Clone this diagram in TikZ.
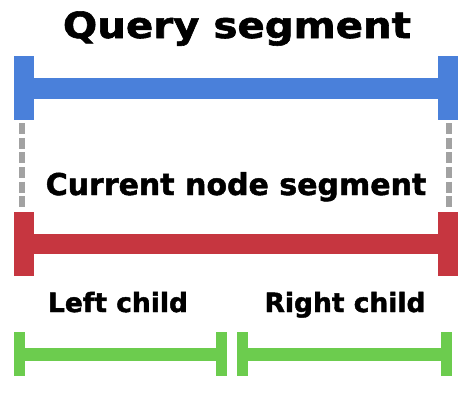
\documentclass[tikz,border=0pt]{standalone}
\usepackage{fontspec}
\setsansfont{DejaVu Sans}[BoldFeatures={FakeBold=1.6}]
\definecolor{qblue}{RGB}{74,128,218}
\definecolor{cred}{RGB}{198,54,64}
\definecolor{kgreen}{RGB}{108,204,78}
\definecolor{dgray}{RGB}{162,162,162}

\begin{document}
\begin{tikzpicture}[x=1pt, y=-1pt,
    bigcap/.style={fill=#1, inner sep=0pt, minimum width=20pt, minimum height=64pt},
    smallcap/.style={fill=#1, inner sep=0pt, minimum width=11pt, minimum height=44pt},
    lbl/.style={font=\sffamily\bfseries\fontsize{#1pt}{#1pt}\selectfont, anchor=base, inner sep=0pt}]
            \useasboundingbox (0,0) rectangle (470,402);

            %Labels
            \node[lbl=36] at (237,38) (query) {\scalebox{1.12}[1]{Query segment}};
            \node[lbl=30] at (236,195) (current) {Current node segment};
            \node[lbl=26.5] at (118,312) (left) {Left child};
            \node[lbl=26.5] at (345,312) (right) {Right child};

            %Caps
            \node[bigcap=qblue] at (24,88) (qL) {};
            \node[bigcap=qblue] at (448,88) (qR) {};
            \node[bigcap=cred] at (24,243.5) (cL) {};
            \node[bigcap=cred] at (448,243.5) (cR) {};
            \node[smallcap=kgreen] at (19.5,354) (lL) {};
            \node[smallcap=kgreen] at (221.5,354) (lR) {};
            \node[smallcap=kgreen] at (242.5,354) (rL) {};
            \node[smallcap=kgreen] at (446,354) (rR) {};

            %Bars
            \draw[qblue, line width=21pt] (qL.center) -- (qR.center);
            \draw[cred, line width=20pt] (cL.center) -- (cR.center);
            \draw[kgreen, line width=13pt] (lL.center) -- (lR.center);
            \draw[kgreen, line width=13pt] (rL.center) -- (rR.center);

            %Dashed lines
            \draw[dgray, line width=6pt, dash pattern=on 11pt off 3.6pt, shorten <=3pt, shorten >=4pt] ([xshift=-2pt]qL.south) -- ([xshift=-2pt]cL.north);
            \draw[dgray, line width=6pt, dash pattern=on 11pt off 3.6pt, shorten <=3pt, shorten >=4pt] ([xshift=1pt]qR.south) -- ([xshift=1pt]cR.north);
        \end{tikzpicture}
\end{document}
